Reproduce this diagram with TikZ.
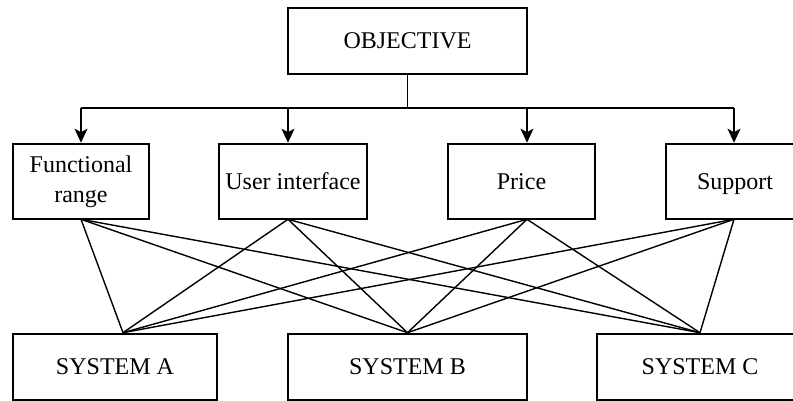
\documentclass[tikz,border=0pt]{standalone}
\usepackage{fontspec}
\setmainfont{Liberation Serif}
\usetikzlibrary{arrows.meta}
\begin{document}
\begin{tikzpicture}[x=1pt, y=-1pt,
		box/.style={draw, line width=2.6pt, inner sep=0pt, align=center, font=\fontsize{24}{30}\selectfont},
		link/.style={line width=1.4pt},
		pointer/.style={line width=1.6pt, -{Stealth[length=14pt, width=13pt, inset=3.5pt]}}]
		\useasboundingbox (0,0) rectangle (793,400);
		% goal
		\node[box, minimum width=239pt, minimum height=66pt] (obj) at (407.5,41) {OBJECTIVE};
		% criteria
		\node[box, minimum width=136pt, minimum height=75pt] (fr) at (81,181.5) {Functional\\range};
		\node[box, minimum width=148pt, minimum height=75pt] (ui) at (293,181.5) {User interface};
		\node[box, minimum width=147pt, minimum height=75pt] (pr) at (521.5,181.5) {Price};
		\node[box, minimum width=138pt, minimum height=75pt, text depth=0pt] (su) at (735,181.5) {Support};
		% alternatives
		\node[box, minimum width=204pt, minimum height=66pt] (sa) at (115,367) {SYSTEM A};
		\node[box, minimum width=239pt, minimum height=66pt] (sb) at (407.5,367) {SYSTEM B};
		\node[box, minimum width=206pt, minimum height=66pt] (sc) at (700,367) {SYSTEM C};
		%
		\coordinate (bus) at (407.5,108);
		\coordinate (t1) at (81,108);
		\coordinate (t2) at (288,108);
		\coordinate (t3) at (527,108);
		\coordinate (t4) at (734,108);
		\coordinate (a1) at ([xshift=8pt]sa.north);
		\coordinate (a2) at (sb.north);
		\coordinate (a3) at (sc.north);
		% tree from the goal down to the criteria
		\draw[line width=1.6pt] (obj.south) -- (bus);
		\draw[line width=1.6pt] (t1) -- (t4);
		\draw[pointer] (t1) -- (t1 |- fr.north);
		\draw[pointer] (t2) -- (t2 |- ui.north);
		\draw[pointer] (t3) -- (t3 |- pr.north);
		\draw[pointer] (t4) -- (t4 |- su.north);
		% every criterion to every system
		\foreach \c in {t1,t2,t3,t4}
			\foreach \s in {a1,a2,a3}
				\draw[link] ([yshift=1pt]\c |- fr.south) -- (\s);
	\end{tikzpicture}
\end{document}
